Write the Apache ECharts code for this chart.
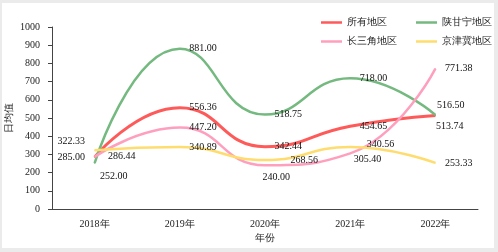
<!DOCTYPE html>
<html>
<head>
<meta charset="utf-8">
<script src="https://cdn.jsdelivr.net/npm/echarts@6/dist/echarts.min.js"></script>
<style>
  html, body { margin: 0; padding: 0; background: #ebebeb; }
  #chart { position: absolute; left: 2px; top: 3px; width: 492px; height: 245px; background: #fff; }
</style>
</head>
<body>
<div id="chart"></div>
<script>
var years = ['2018年', '2019年', '2020年', '2021年', '2022年'];
var seriesNames = ['所有地区', '陕甘宁地区', '长三角地区', '京津冀地区'];
var allRegions = [285.00, 556.36, 342.44, 454.65, 513.74];
var shaanGanNing = [252.00, 881.00, 518.75, 718.00, 516.50];
var yangtzeDelta = [286.44, 447.20, 240.00, 305.40, 771.38];
var jingJinJi = [322.33, 340.89, 268.56, 340.56, 253.33];

// label nudges, one per point: [position, dx, dy]
var labelTweaks = [
    [['left', 0, 0], ['right', 0, 0], ['right', 0, 0], ['right', 0, 0], ['right', -9, 11]],
    [['right', -4, 13], ['right', 0, 0], ['right', 0, 0], ['right', 0, 0], ['right', -8, -10]],
    [['right', 4, 0], ['right', 0, 0], ['right', -12, 12], ['right', -6, 6], ['right', 0, 0]],
    [['left', 0, -9], ['right', 0, 0], ['right', 16, 0], ['right', 7, -3], ['right', 0, 0]]
];
var colors = ['#ff5a5a', '#74b97f', '#ff9fbe', '#ffdc6e'];
var widths = [3, 2.5, 2.5, 2.5];

var font = 'Liberation Serif';

function buildData(values, tweaks) {
    var list = [];
    for (var i = 0; i < values.length; i++) {
        list.push({
            value: values[i],
            label: {position: tweaks[i][0], offset: [tweaks[i][1], tweaks[i][2]]}
        });
    }
    return list;
}

var chart = echarts.init(document.getElementById('chart'));
var allValues = [allRegions, shaanGanNing, yangtzeDelta, jingJinJi];
var series = [];
for (var s = 0; s < seriesNames.length; s++) {
    series.push({
        name: seriesNames[s],
        type: 'line',
        smooth: true,
        symbol: 'circle',
        symbolSize: 1,
        showSymbol: true,
        itemStyle: {color: colors[s]},
        lineStyle: {width: widths[s], color: colors[s]},
        label: {
            show: true,
            distance: 9,
            fontFamily: font,
            fontSize: 10,
            color: '#111',
            formatter: function (p) { return p.value.toFixed(2); }
        },
        data: buildData(allValues[s], labelTweaks[s])
    });
}

var legendCommon = {
    orient: 'vertical',
    top: 8,
    icon: 'rect',
    itemWidth: 21,
    itemHeight: 2.5,
    itemGap: 6,
    textStyle: {fontFamily: font, fontSize: 10, color: '#222', lineHeight: 13}
};
chart.setOption({
    animation: false,
    textStyle: {fontFamily: font},
    legend: [
        Object.assign({left: 314, data: ['所有地区', '长三角地区']}, legendCommon),
        Object.assign({left: 409, data: ['陕甘宁地区', '京津冀地区']}, legendCommon)
    ],
    grid: {left: 50, top: 24, right: 16, bottom: 39, outerBoundsMode: 'none'},
    xAxis: {
        type: 'category',
        data: years,
        name: '年份',
        nameLocation: 'middle',
        nameGap: 24,
        nameMoveOverlap: false,
        nameTextStyle: {fontFamily: font, fontSize: 10, color: '#222'},
        axisLine: {lineStyle: {color: '#444'}},
        axisTick: {length: 4, lineStyle: {color: '#444'}},
        axisLabel: {fontFamily: font, fontSize: 10, color: '#222', margin: 10}
    },
    yAxis: {
        type: 'value',
        min: 0,
        max: 1000,
        interval: 100,
        name: '日均值',
        nameLocation: 'middle',
        nameRotate: 90,
        nameGap: 38,
        nameMoveOverlap: false,
        nameTextStyle: {fontFamily: font, fontSize: 10, color: '#222'},
        splitLine: {show: false},
        axisLine: {show: true, lineStyle: {color: '#444'}},
        axisTick: {show: true, length: 4, lineStyle: {color: '#444'}},
        axisLabel: {fontFamily: font, fontSize: 10, color: '#222', margin: 12, formatter: function (v) { return String(v); }}
    },
    series: series
});
</script>
</body>
</html>
